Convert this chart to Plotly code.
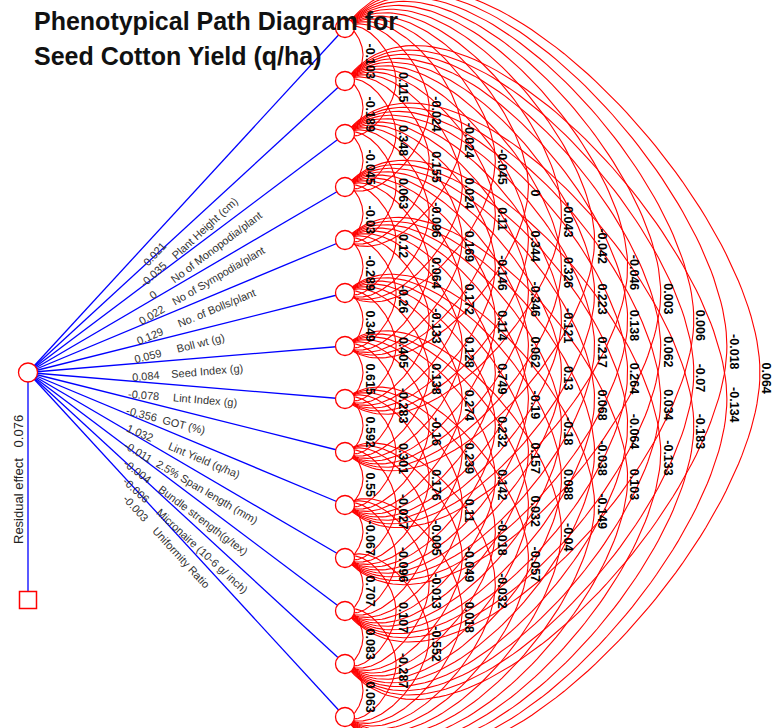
import numpy as np
import plotly.graph_objects as go

# ---------------- data ----------------
title_line1 = "Phenotypical Path Diagram for"
title_line2 = "Seed Cotton Yield (q/ha)"

trait_names = ["", "Plant Height (cm)", "No of Monopodia/plant", "No of Sympodia/plant",
               "No. of Bolls/plant", "Boll wt (g)", "Seed Index (g)", "Lint Index (g)",
               "GOT (%)", "Lint Yield (q/ha)", "2.5% Span length (mm)",
               "Bundle strength(g/tex)", "Micronaire (10-6 g/ inch)", "Uniformity Ratio"]
direct_effects = [0.021, -0.035, 0, 0.022, 0.129, 0.059, 0.084, -0.078, -0.356,
                  1.032, -0.011, -0.004, -0.006, -0.003]
residual_label = "Residual effect"
residual_effect = 0.076

# correlations between traits i and i+lag, listed from the top trait down
corr_lag1 = [-0.103, -0.189, -0.045, -0.03, -0.289, 0.349, 0.615, 0.592, 0.55, -0.067, 0.707, 0.083, 0.063]
corr_lag2 = [0.115, 0.348, 0.063, 0.12, -0.26, 0.405, -0.283, 0.301, -0.027, -0.096, 0.107, -0.287]
corr_lag3 = [-0.024, 0.155, -0.096, 0.064, -0.133, 0.138, -0.16, 0.176, -0.005, -0.013, -0.552]
corr_lag4 = [-0.024, 0.024, 0.169, 0.172, 0.128, 0.274, 0.239, 0.11, -0.049, 0.018]
corr_lag5 = [-0.045, 0.11, -0.146, 0.114, 0.749, 0.232, 0.142, -0.018, -0.032]
corr_lag6 = [0, 0.344, -0.346, 0.062, -0.19, 0.157, 0.032, -0.057]
corr_lag7 = [-0.043, 0.326, -0.121, 0.13, -0.18, 0.088, -0.04]
corr_lag8 = [-0.042, 0.223, 0.217, 0.068, -0.038, -0.149]
corr_lag9 = [-0.046, 0.138, 0.264, -0.064, 0.103]
corr_lag10 = [0.003, 0.062, 0.034, -0.133]
corr_lag11 = [0.006, -0.07, -0.183]
corr_lag12 = [-0.018, -0.134]
corr_lag13 = [0.064]
corr_lags = [corr_lag1, corr_lag2, corr_lag3, corr_lag4, corr_lag5, corr_lag6, corr_lag7,
             corr_lag8, corr_lag9, corr_lag10, corr_lag11, corr_lag12, corr_lag13]

# ---------------- layout geometry ----------------
W, H = 776, 728
n_nodes = len(direct_effects)
NODE_X = 345.0
NODE_TOP, NODE_STEP = 28.0, 53.0
SRC = np.array([28.0, 372.5])
RES_Y = 600.0
node_y = NODE_TOP + NODE_STEP * np.arange(n_nodes)

FONT = "Liberation Sans, Arial, sans-serif"
annotations = []

def fmt(v):
    return format(v, "g")

def bezier(p0, p1, p2, p3, n=70):
    t = np.linspace(0, 1, n)[:, None]
    pts = ((1 - t) ** 3) * p0 + 3 * ((1 - t) ** 2) * t * p1 + 3 * (1 - t) * t ** 2 * p2 + t ** 3 * p3
    return pts

fig = go.Figure()

# ---------------- red correlation arcs ----------------
arc_x, arc_y = [], []
for d, vals in enumerate(corr_lags, start=1):
    h = 18.0 + 33.08 * (d - 1)           # horizontal reach of the arc
    theta = np.radians(28 + 2.3 * (d - 1))  # departure angle at the node
    for i, v in enumerate(vals):
        y1, y2 = node_y[i], node_y[i + d]
        c = (y2 - y1) / 2.0
        cy = (y1 + y2) / 2.0
        L0 = 0.45 * h
        L1 = 0.5 * c
        apex = np.array([NODE_X + h, cy])
        top = bezier(np.array([NODE_X, y1]),
                     np.array([NODE_X + L0 * np.cos(theta), y1 - L0 * np.sin(theta)]),
                     np.array([apex[0], cy - L1]), apex)
        bot = bezier(apex, np.array([apex[0], cy + L1]),
                     np.array([NODE_X + L0 * np.cos(theta), y2 + L0 * np.sin(theta)]),
                     np.array([NODE_X, y2]))
        pts = np.vstack([top, bot[1:]])
        arc_x += list(pts[:, 0]) + [None]
        arc_y += list(pts[:, 1]) + [None]
        annotations.append(dict(x=NODE_X + h + 7, y=cy + 6, text="<b>" + fmt(v) + "</b>",
                                textangle=90, showarrow=False, xref="x", yref="y",
                                xanchor="center", yanchor="middle",
                                font=dict(family=FONT, size=12.5, color="#000")))

fig.add_trace(go.Scatter(x=arc_x, y=arc_y, mode="lines",
                         line=dict(color="#ff0000", width=1.1), hoverinfo="skip"))

# ---------------- blue path lines ----------------
bx, by = [], []
for k in range(n_nodes):
    bx += [SRC[0], NODE_X, None]
    by += [SRC[1], node_y[k], None]
bx += [SRC[0], SRC[0], None]
by += [SRC[1], RES_Y, None]
fig.add_trace(go.Scatter(x=bx, y=by, mode="lines",
                         line=dict(color="#0000ff", width=1.3), hoverinfo="skip"))

# labels along the blue lines
for k in range(n_nodes):
    end = np.array([NODE_X, node_y[k]])
    vec = end - SRC
    u = vec / np.hypot(*vec)
    nrm = np.array([-u[1], u[0]])
    ang = float(np.degrees(np.arctan2(u[1], u[0])))
    s_v = (145.0 - SRC[0]) / u[0]
    pv = SRC + s_v * u + 13 * nrm
    annotations.append(dict(x=pv[0], y=pv[1], text=fmt(direct_effects[k]), textangle=ang,
                            showarrow=False, xref="x", yref="y", xanchor="center", yanchor="middle",
                            font=dict(family=FONT, size=11, color="#333")))
    name = trait_names[k]
    if name:
        wn = 5.2 * len(name)
        pn = SRC + (s_v + 25 + wn / 2) * u + 13 * nrm
        annotations.append(dict(x=pn[0], y=pn[1], text=name, textangle=ang,
                                showarrow=False, xref="x", yref="y", xanchor="center", yanchor="middle",
                                font=dict(family=FONT, size=11, color="#333")))

# residual label
annotations.append(dict(x=18, y=480, text=residual_label + "\u00a0\u00a0 " + fmt(residual_effect),
                        textangle=-90, showarrow=False, xref="x", yref="y",
                        xanchor="center", yanchor="middle",
                        font=dict(family=FONT, size=13, color="#222")))

# ---------------- nodes ----------------
fig.add_trace(go.Scatter(x=[NODE_X] * n_nodes + [SRC[0]], y=list(node_y) + [SRC[1]],
                         mode="markers", hoverinfo="skip",
                         marker=dict(symbol="circle", size=19, color="white",
                                     line=dict(color="#ff0000", width=1.3))))
fig.add_trace(go.Scatter(x=[SRC[0]], y=[RES_Y], mode="markers", hoverinfo="skip",
                         marker=dict(symbol="square", size=17, color="white",
                                     line=dict(color="#ff0000", width=1.5))))

# ---------------- title ----------------
annotations.append(dict(x=32, y=21, text="<b>" + title_line1 + "</b>", showarrow=False,
                        xref="x", yref="y", xanchor="left", yanchor="middle",
                        font=dict(family=FONT, size=25, color="#111")))
annotations.append(dict(x=32, y=56, text="<b>" + title_line2 + "</b>", showarrow=False,
                        xref="x", yref="y", xanchor="left", yanchor="middle",
                        font=dict(family=FONT, size=25, color="#111")))

fig.update_layout(width=W, height=H, margin=dict(l=0, r=0, t=0, b=0),
                  paper_bgcolor="white", plot_bgcolor="white", showlegend=False,
                  annotations=annotations,
                  xaxis=dict(range=[0, W], visible=False, fixedrange=True),
                  yaxis=dict(range=[H, 0], visible=False, fixedrange=True))

fig.write_html("out.html", config={"displayModeBar": False},
               post_script="document.body.style.margin='0px';")
